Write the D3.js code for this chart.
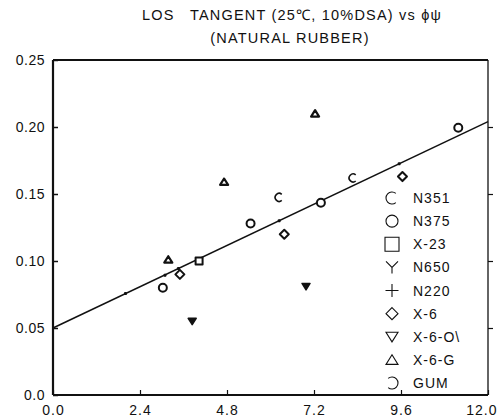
<!DOCTYPE html>
<html>
<head>
<meta charset="utf-8">
<script src="https://cdn.jsdelivr.net/npm/d3@7"></script>
<style>
  html, body { margin: 0; padding: 0; background: #fff; }
  svg { display: block; }
  text { font-family: "Liberation Sans", Arial, sans-serif; fill: #111; }
</style>
</head>
<body>
<svg id="chart" width="498" height="420"></svg>
<script>
// Axis ticks
const xTicks = [0, 2.4, 4.8, 7.2, 9.6, 12.0];
const xTickLabels = ["0.0", "2.4", "4.8", "7.2", "9.6", "12.0"];
const yTicks = [0, 0.05, 0.10, 0.15, 0.20, 0.25];
const yTickLabels = ["0.0", "0.05", "0.10", "0.15", "0.20", "0.25"];

// Fitted trend line endpoints (phi-psi, tan delta)
const fitLine = [[0, 0.050], [12, 0.204]];

// Measured points per compound: [phi-psi, loss tangent]
const n351 = [[6.24, 0.1475], [8.28, 0.162]];
const n375 = [[7.39, 0.1435], [3.03, 0.080], [11.18, 0.1995], [5.45, 0.128]];
const x23  = [[4.03, 0.100]];
const n650 = [];
const n220 = [[2.0, 0.0757], [3.09, 0.0893], [3.46, 0.0944], [6.24, 0.130], [9.55, 0.1725]];
const x6   = [[6.38, 0.120], [3.50, 0.090], [9.64, 0.163]];
const x6o  = [[6.98, 0.081], [3.84, 0.055]];
const x6g  = [[7.23, 0.210], [4.72, 0.159], [3.18, 0.101]];
const gum  = [];

const legendNames = ["N351", "N375", "X-23", "N650", "N220", "X-6", "X-6-O\\", "X-6-G", "GUM"];

const svg = d3.select("#chart");
const x = d3.scaleLinear().domain([0, 12]).range([53, 488]);
const y = d3.scaleLinear().domain([0, 0.25]).range([395, 60]);

// Marker shapes as path generators, s = nominal size in px
const shapes = {
  C: s => { const r = s / 2; const a0 = Math.PI * 0.28, a1 = Math.PI * 1.72;
    return `M${r*Math.cos(a0)},${-r*Math.sin(a0)} A${r},${r} 0 1 0 ${r*Math.cos(a1)},${-r*Math.sin(a1)}`; },
  O: s => { const r = s / 2; return `M${r},0 A${r},${r} 0 1 1 ${-r},0 A${r},${r} 0 1 1 ${r},0Z`; },
  square: s => { const h = s / 2; return `M${-h},${-h}H${h}V${h}H${-h}Z`; },
  Y: s => { const h = s / 2; return `M${-h},${-h}L0,0L${h},${-h}M0,0V${h}`; },
  plus: s => { const h = s / 2; return `M${-h},0H${h}M0,${-h}V${h}`; },
  diamond: s => { const h = s / 2; return `M0,${-h}L${h},0L0,${h}L${-h},0Z`; },
  down: s => { const h = s / 2; return `M${-h},${-h*0.75}H${h}L0,${h*0.85}Z`; },
  up: s => { const h = s / 2; return `M${-h},${h*0.75}H${h}L0,${-h*0.85}Z`; },
  G: s => { const r = s / 2; const a0 = Math.PI * 0.72, a1 = Math.PI * 1.28;
    return `M${r*Math.cos(a0)},${-r*Math.sin(a0)} A${r},${r} 0 1 1 ${r*Math.cos(a1)},${-r*Math.sin(a1)}`; }
};

const series = [
  { data: n351, shape: "C", size: 8, fill: "none", sw: 1.6 },
  { data: n375, shape: "O", size: 8, fill: "#fff", sw: 2 },
  { data: x23, shape: "square", size: 7, fill: "#fff", sw: 2 },
  { data: n650, shape: "Y", size: 7, fill: "none", sw: 1.6 },
  { data: n220, shape: "plus", size: 3, fill: "none", sw: 2 },
  { data: x6, shape: "diamond", size: 9, fill: "#fff", sw: 2 },
  { data: x6o, shape: "down", size: 8, fill: "#111", sw: 1.5 },
  { data: x6g, shape: "up", size: 8, fill: "#fff", sw: 2.2 },
  { data: gum, shape: "G", size: 8, fill: "none", sw: 1.6 }
];

// Frame
const frame = svg.append("g").attr("stroke", "#111").attr("fill", "none");
frame.append("line").attr("x1", x(0)).attr("x2", x(0)).attr("y1", y(0.25)).attr("y2", y(0)).attr("stroke-width", 2.2);
frame.append("line").attr("x1", x(0)).attr("x2", x(12)).attr("y1", y(0)).attr("y2", y(0)).attr("stroke-width", 2.2);
frame.append("line").attr("x1", x(0)).attr("x2", x(12)).attr("y1", y(0.25)).attr("y2", y(0.25)).attr("stroke-width", 1.8);
frame.append("line").attr("x1", x(12)).attr("x2", x(12)).attr("y1", y(0.25)).attr("y2", y(0)).attr("stroke-width", 1.3);

// Bottom axis
const xAxis = d3.axisBottom(x).tickValues(xTicks)
  .tickFormat((d, i) => xTickLabels[i]).tickSizeInner(-5).tickSizeOuter(0).tickPadding(10);
const gx = svg.append("g").attr("transform", `translate(0,${y(0)})`).call(xAxis);
gx.select(".domain").remove();
gx.selectAll(".tick line").attr("stroke", "#111").attr("stroke-width", 1.2);
gx.selectAll(".tick text").attr("font-size", 14).attr("letter-spacing", 1)
  .attr("font-family", "Liberation Sans, Arial, sans-serif").attr("fill", "#111");
// keep the last label inside the page edge
gx.selectAll(".tick text").filter((d, i) => i === xTicks.length - 1)
  .attr("text-anchor", "end").attr("dx", 9);

// Left axis
const yAxis = d3.axisLeft(y).tickValues(yTicks)
  .tickFormat((d, i) => yTickLabels[i]).tickSizeInner(-5).tickSizeOuter(0).tickPadding(8);
const gy = svg.append("g").attr("transform", `translate(${x(0)},0)`).call(yAxis);
gy.select(".domain").remove();
gy.selectAll(".tick line").attr("stroke", "#111").attr("stroke-width", 1.5);
gy.selectAll(".tick text").attr("font-size", 14).attr("letter-spacing", 0.5)
  .attr("font-family", "Liberation Sans, Arial, sans-serif").attr("fill", "#111");

// Right axis ticks
const yRight = d3.axisRight(y).tickValues(yTicks.slice(1, 5)).tickFormat("").tickSizeInner(5).tickSizeOuter(0);
const gr = svg.append("g").attr("transform", `translate(${x(12)},0)`).call(yRight);
gr.select(".domain").remove();
gr.selectAll(".tick line").attr("stroke", "#111").attr("stroke-width", 1.2);

// Trend line
svg.append("path").datum(fitLine)
  .attr("d", d3.line().x(d => x(d[0])).y(d => y(d[1])))
  .attr("fill", "none").attr("stroke", "#111").attr("stroke-width", 1.5);

// Points
series.forEach(s => {
  svg.append("g").selectAll("path").data(s.data).join("path")
    .attr("transform", d => `translate(${x(d[0])},${y(d[1])})`)
    .attr("d", shapes[s.shape](s.size))
    .attr("fill", s.fill).attr("stroke", "#111").attr("stroke-width", s.sw)
    .attr("stroke-linejoin", "round");
});

// Legend
const lg = svg.append("g");
const legendY = d3.scaleLinear().domain([0, 8]).range([198, 383]);
series.forEach((s, i) => {
  const cy = legendY(i);
  lg.append("path").attr("transform", `translate(392,${cy})`)
    .attr("d", shapes[s.shape](s.shape === "square" ? 14 : s.shape === "plus" ? 13 : 12))
    .attr("fill", "none").attr("stroke", "#111").attr("stroke-width", 1.1);
  lg.append("text").attr("x", 413).attr("y", cy).attr("dy", "0.36em")
    .attr("font-size", 14).attr("letter-spacing", 1).text(legendNames[i]);
});

// Title
svg.append("text").attr("x", 292).attr("y", 20).attr("text-anchor", "middle")
  .attr("font-size", 14.5).attr("letter-spacing", 1.2)
  .style("white-space", "pre")
  .text("LOS   TANGENT (25\u2103, 10%DSA) vs \u03d5\u03c8");
svg.append("text").attr("x", 290).attr("y", 43).attr("text-anchor", "middle")
  .attr("font-size", 14.5).attr("letter-spacing", 1.2).text("(NATURAL RUBBER)");
</script>
</body>
</html>
